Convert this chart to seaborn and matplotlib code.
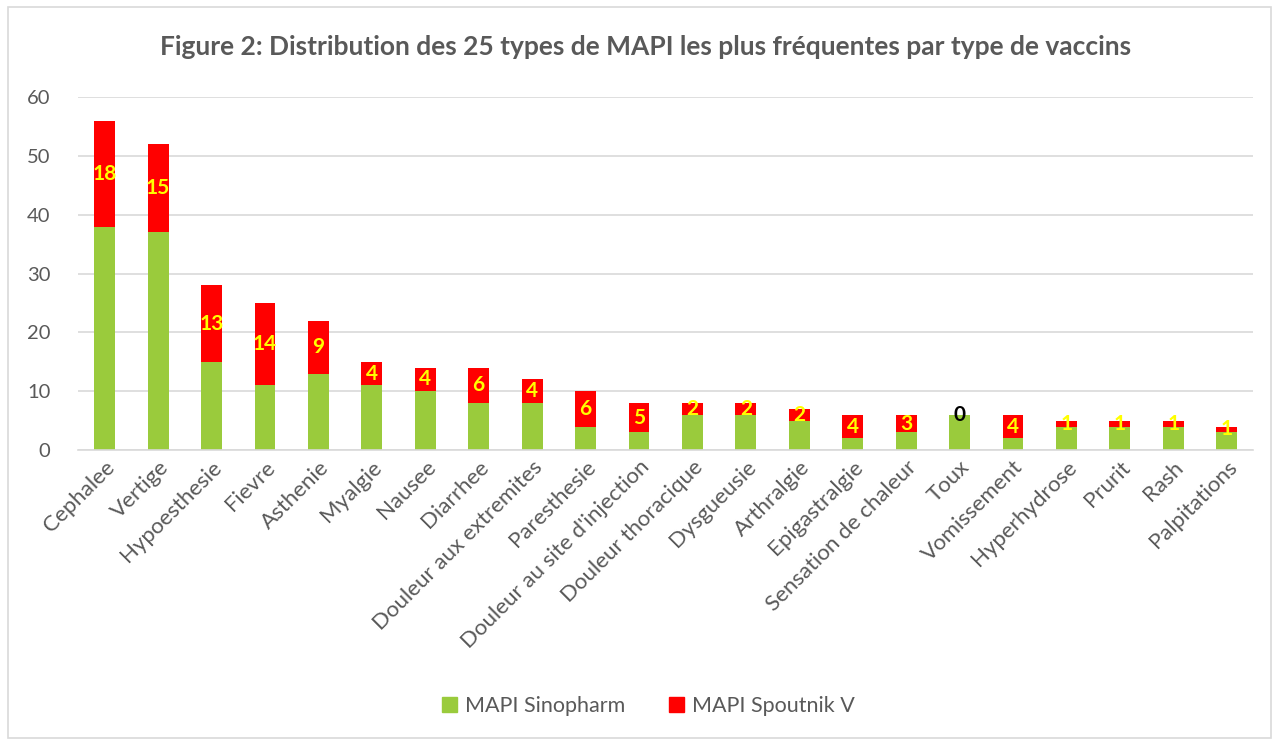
import numpy as np
import pandas as pd
import matplotlib
matplotlib.use("Agg")
import matplotlib.pyplot as plt
import seaborn as sns
from matplotlib.patches import Patch, Rectangle

categories = ["Cephalee", "Vertige", "Hypoesthesie", "Fievre", "Asthenie", "Myalgie",
              "Nausee", "Diarrhee", "Douleur aux extremites", "Paresthesie",
              "Douleur au site d'injection", "Douleur thoracique", "Dysgueusie",
              "Arthralgie", "Epigastralgie", "Sensation de chaleur", "Toux",
              "Vomissement", "Hyperhydrose", "Prurit", "Rash", "Palpitations"]
sinopharm = [38, 37, 15, 11, 13, 11, 10, 8, 8, 4, 3, 6, 6, 5, 2, 3, 6, 2, 4, 4, 4, 3]
spoutnik = [18, 15, 13, 14, 9, 4, 4, 6, 4, 6, 5, 2, 2, 2, 4, 3, 0, 4, 1, 1, 1, 1]

green = "#9ACB3C"
red = "#FF0000"
grey_txt = "#595959"

df = pd.DataFrame({"cat": categories, "sino": sinopharm, "spout": spoutnik})
df["total"] = df["sino"] + df["spout"]

sns.set_style("white")
plt.rcParams["font.family"] = ["Lato", "DejaVu Sans"]

fig = plt.figure(figsize=(12.79, 7.42), dpi=100)
ax = fig.add_axes([0.061, 0.3935, 0.919, 0.4755])

# red = total height, green drawn over it -> stacked look
sns.barplot(data=df, x="cat", y="total", color=red, saturation=1, width=0.39,
            edgecolor="none", ax=ax)
sns.barplot(data=df, x="cat", y="sino", color=green, saturation=1, width=0.39,
            edgecolor="none", ax=ax)

for i, row in df.iterrows():
    col = "black" if row["spout"] == 0 else "#FFFF00"
    ax.text(i, row["sino"] + row["spout"] / 2, str(row["spout"]), ha="center", va="center",
            fontsize=15, fontweight="bold", color=col)

ax.set_ylim(0, 60)
ax.set_xlim(-0.5, len(categories) - 0.5)
ax.set_yticks(range(0, 61, 10))
ax.yaxis.grid(True, color="#D9D9D9", linewidth=1.2)
ax.set_axisbelow(True)
for s in ["top", "right", "left"]:
    ax.spines[s].set_visible(False)
ax.spines["bottom"].set_color("#D9D9D9")
ax.spines["bottom"].set_linewidth(1.2)
ax.tick_params(axis="y", length=0, labelsize=14.5, labelcolor=grey_txt, pad=20)
ax.tick_params(axis="x", length=0, labelsize=16, labelcolor=grey_txt, pad=5)
ax.set_xticks(range(len(categories)))
ax.set_xticklabels(categories, rotation=45, ha="right", rotation_mode="anchor")
ax.set_xlabel("")
ax.set_ylabel("")

fig.text(0.505, 0.937, "Figure 2: Distribution des 25 types de MAPI les plus fréquentes par type de vaccins",
         ha="center", va="center", fontsize=19, fontweight="bold", color=grey_txt)

handles = [Patch(color=green, label="MAPI Sinopharm"), Patch(color=red, label="MAPI Spoutnik V")]
fig.legend(handles=handles, loc="center", bbox_to_anchor=(0.507, 0.048), ncol=2, frameon=False,
           fontsize=15.5, labelcolor=grey_txt, handlelength=0.7, handleheight=0.7,
           columnspacing=2.0, handletextpad=0.4)

fig.patches.append(Rectangle((0.006, 0.005), 0.988, 0.985, transform=fig.transFigure,
                             fill=False, edgecolor="#D9D9D9", linewidth=1.2))

fig.savefig("out.png", dpi=100)
